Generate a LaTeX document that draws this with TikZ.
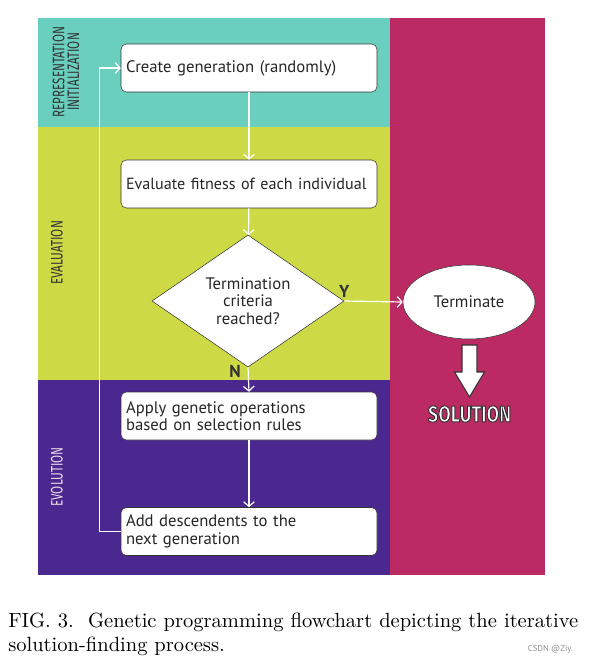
\documentclass[tikz,border=0pt]{standalone}
\usepackage{fontspec}
\setsansfont{PT Sans}
\newfontfamily\condfont[FakeStretch=0.7]{Fira Sans}
\newfontfamily\solfont[FakeStretch=0.8, UprightFont=* Bold]{Fira Sans}
\newfontfamily\capfont{lmroman10-regular.otf}
\usetikzlibrary{shapes.geometric, arrows.meta}
\definecolor{initcol}{HTML}{6BCFBF}
\definecolor{evalcol}{HTML}{CDDA45}
\definecolor{evolcol}{HTML}{4B2890}
\definecolor{solcol}{HTML}{BC2A63}
\definecolor{inkcol}{HTML}{333333}
\begin{document}
\begin{tikzpicture}[x=.75pt, y=-.75pt, >={Straight Barb[length=3.5pt, width=8pt]},
	box/.style={draw=inkcol, fill=white, rounded corners=4pt, text width=184.5pt, inner xsep=3.75pt, minimum height=36pt, align=left, font=\sffamily\fontsize{12.5}{13}\selectfont, text=black!85},
	decision/.style={diamond, draw=inkcol, fill=white, minimum width=144pt, minimum height=99pt, inner sep=0pt, align=center, font=\sffamily\fontsize{12.5}{13}\selectfont, text=black!85},
	termbox/.style={ellipse, draw=inkcol, fill=white, minimum width=99pt, minimum height=55.5pt, font=\sffamily\fontsize{12.5}{13}\selectfont, text=black!85},
	flow/.style={->, white, line width=.9pt},
	yn/.style={font=\sffamily\bfseries\fontsize{13}{13}\selectfont, text=inkcol, inner sep=1pt},
	band/.style={rotate=90, font=\condfont\fontsize{12.5}{13}\selectfont, align=center},
	capline/.style={anchor=base west, inner sep=0pt, font=\capfont\fontsize{15.4}{18}\selectfont}]
	\useasboundingbox (0,0) rectangle (588,666);
	% background bands
	\fill[initcol] (38,18) rectangle (390,127);
	\fill[evalcol] (38,127) rectangle (390,380);
	\fill[evolcol] (38,380) rectangle (390,575);
	\fill[solcol] (390,18) rectangle (545,575);
	\node[band, text=inkcol] (lrep) at (66,72) {REPRESENTATION\\[-2pt]INITIALIZATION};
	\node[band, text=inkcol] (leval) at (57,253) {EVALUATION};
	\node[band, text=violet!15] (levol) at (57,477) {EVOLUTION};
	% flowchart
	\node[box] (create) at (249,68) {Create generation (randomly)};
	\node[box] (eval) at (249,184) {\mbox{\fontsize{12.1}{13}\selectfont Evaluate fitness of each individual}};
	\node[decision] (dec) at (248,301) {Termination\\criteria\\reached?};
	\node[box] (apply) at (249,416) {Apply genetic operations\\based on selection rules};
	\node[box] (add) at (249,531.5) {Add descendents to the\\next generation};
	\node[termbox] (term) at (469,302) {Terminate};
	\draw[flow] (create) -- (eval);
	\draw[flow] (eval) -- (dec);
	\draw[flow] (dec.east) -- node[yn, pos=0, above=1pt] {Y} (term.west);
	\draw[flow] (dec.south) -- node[yn, pos=0, left=4pt, yshift=-3pt] {N} (apply.north);
	\draw[flow] (apply) -- (add);
	\draw[flow] (add.west) -- ++(-21,0) |- (create.west);
	% solution
	\draw[inkcol, fill=white, line width=.8pt] (462,345) -- (477,345) -- (477,372) -- (484.5,372) -- (469.5,397) -- (454.5,372) -- (462,372) -- cycle;
	\node[font=\solfont\fontsize{17}{17}\selectfont, text=white] (sol) at (469.5,414) {\special{pdf:code 2 Tr 0.75 w 0.2 G}SOLUTION\special{pdf:code 0 Tr}};
	% caption
	\node[capline] (cap1) at (8,627.5) {\makebox[427.5pt][s]{FIG. 3.\ \ Genetic programming flowchart depicting the iterative}};
	\node[capline] (cap2) at (8,651.5) {solution-finding process.};
	\node[anchor=base east, inner sep=0pt, font=\sffamily\fontsize{6.5}{7}\selectfont, text=black!45] (mark) at (573,651) {CSDN @Ziy.};
\end{tikzpicture}
\end{document}
